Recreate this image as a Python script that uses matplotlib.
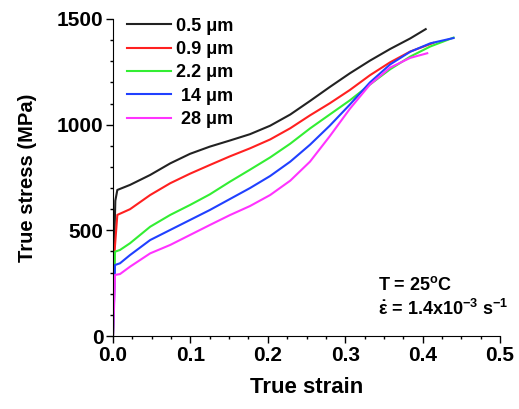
import matplotlib
matplotlib.use("Agg")
import matplotlib.pyplot as plt
from matplotlib.ticker import MultipleLocator, FormatStrFormatter

plt.rcParams['font.family'] = ['Liberation Sans', 'DejaVu Sans']
plt.rcParams['font.weight'] = 'bold'
plt.rcParams['mathtext.fontset'] = 'custom'
plt.rcParams['mathtext.rm'] = 'Liberation Sans:bold'
plt.rcParams['mathtext.it'] = 'Liberation Sans:bold'
plt.rcParams['mathtext.bf'] = 'Liberation Sans:bold'
plt.rcParams['mathtext.default'] = 'rm'

# grain sizes and curves
labels = ['0.5 \u03bcm', '0.9 \u03bcm', '2.2 \u03bcm', ' 14 \u03bcm', ' 28 \u03bcm']
colors = ['#222222', '#ff2020', '#33ee33', '#2040ff', '#ff33ff']

strain_05 = [0, 0.001, 0.003, 0.0056, 0.022, 0.048, 0.074, 0.0995, 0.125, 0.151, 0.177, 0.203, 0.229, 0.2545, 0.280, 0.306, 0.332, 0.358, 0.384, 0.404]
stress_05 = [0, 350, 640, 691, 715, 762, 817, 862, 896, 925, 955, 995, 1048, 1112, 1178, 1243, 1303, 1358, 1408, 1452]

strain_09 = [0, 0.002, 0.0056, 0.022, 0.048, 0.074, 0.0995, 0.125, 0.151, 0.177, 0.203, 0.229, 0.2545, 0.280, 0.306, 0.332, 0.358, 0.384, 0.414]
stress_09 = [0, 400, 573, 600, 667, 723, 768, 809, 850, 888, 930, 983, 1044, 1101, 1164, 1234, 1295, 1346, 1387]

strain_22 = [0, 0.002, 0.0026, 0.009, 0.022, 0.048, 0.074, 0.0995, 0.125, 0.151, 0.177, 0.203, 0.229, 0.2545, 0.280, 0.306, 0.332, 0.358, 0.384, 0.41, 0.44]
stress_22 = [0, 300, 399, 407, 439, 517, 573, 620, 670, 730, 787, 845, 910, 982, 1048, 1115, 1190, 1262, 1322, 1370, 1412]

strain_14 = [0, 0.002, 0.0026, 0.009, 0.022, 0.048, 0.074, 0.0995, 0.125, 0.151, 0.177, 0.203, 0.229, 0.2545, 0.280, 0.306, 0.332, 0.358, 0.384, 0.41, 0.44]
stress_14 = [0, 250, 336, 344, 383, 454, 502, 549, 596, 648, 700, 757, 825, 905, 995, 1095, 1200, 1285, 1345, 1385, 1410]

strain_28 = [0, 0.002, 0.0026, 0.009, 0.022, 0.048, 0.074, 0.0995, 0.125, 0.151, 0.177, 0.203, 0.229, 0.2545, 0.280, 0.306, 0.332, 0.358, 0.384, 0.406]
stress_28 = [0, 200, 289, 293, 328, 391, 431, 478, 525, 572, 615, 667, 735, 825, 945, 1075, 1190, 1270, 1316, 1338]

curves = [(strain_05, stress_05), (strain_09, stress_09), (strain_22, stress_22),
          (strain_14, stress_14), (strain_28, stress_28)]

fig = plt.figure(figsize=(5.19, 4.09), dpi=100)
ax = fig.add_axes([113/519, 1 - 336/409, (500 - 113)/519, (336 - 19)/409])

for (x, y), c, lab in zip(curves, colors, labels):
    ax.plot(x, y, color=c, lw=1.5, label=lab)

ax.set_xlim(0, 0.5)
ax.set_ylim(0, 1500)
ax.xaxis.set_major_locator(MultipleLocator(0.1))
ax.xaxis.set_minor_locator(MultipleLocator(0.025))
ax.yaxis.set_major_locator(MultipleLocator(500))
ax.yaxis.set_minor_locator(MultipleLocator(100))
ax.xaxis.set_major_formatter(FormatStrFormatter('%.1f'))
ax.spines['top'].set_visible(False)
ax.spines['right'].set_visible(False)
ax.tick_params(which='major', direction='out', length=5, width=1, labelsize=15, pad=2)
ax.tick_params(which='minor', direction='out', length=2.5, width=1)
for t in ax.get_xticklabels() + ax.get_yticklabels():
    t.set_fontweight('bold')

ax.set_xlabel('True strain', fontsize=16, fontweight='bold', labelpad=9)
ax.set_ylabel('True stress (MPa)', fontsize=14.5, fontweight='bold', labelpad=14)

leg = ax.legend(loc='upper left', bbox_to_anchor=(-0.005, 1.055), frameon=False,
                prop={'size': 13, 'weight': 'bold'}, handlelength=2.4,
                labelspacing=0.35, handletextpad=0.3)

ax.text(0.685, 0.161, 'T = 25$^{o}$C', transform=ax.transAxes, fontsize=13,
        fontweight='bold', va='center')
ax.text(0.685, 0.085, r'$\dot{\epsilon}$ = 1.4x10$^{-3}$ s$^{-1}$', transform=ax.transAxes,
        fontsize=13, fontweight='bold', va='center')

fig.savefig('out.png', dpi=100)
